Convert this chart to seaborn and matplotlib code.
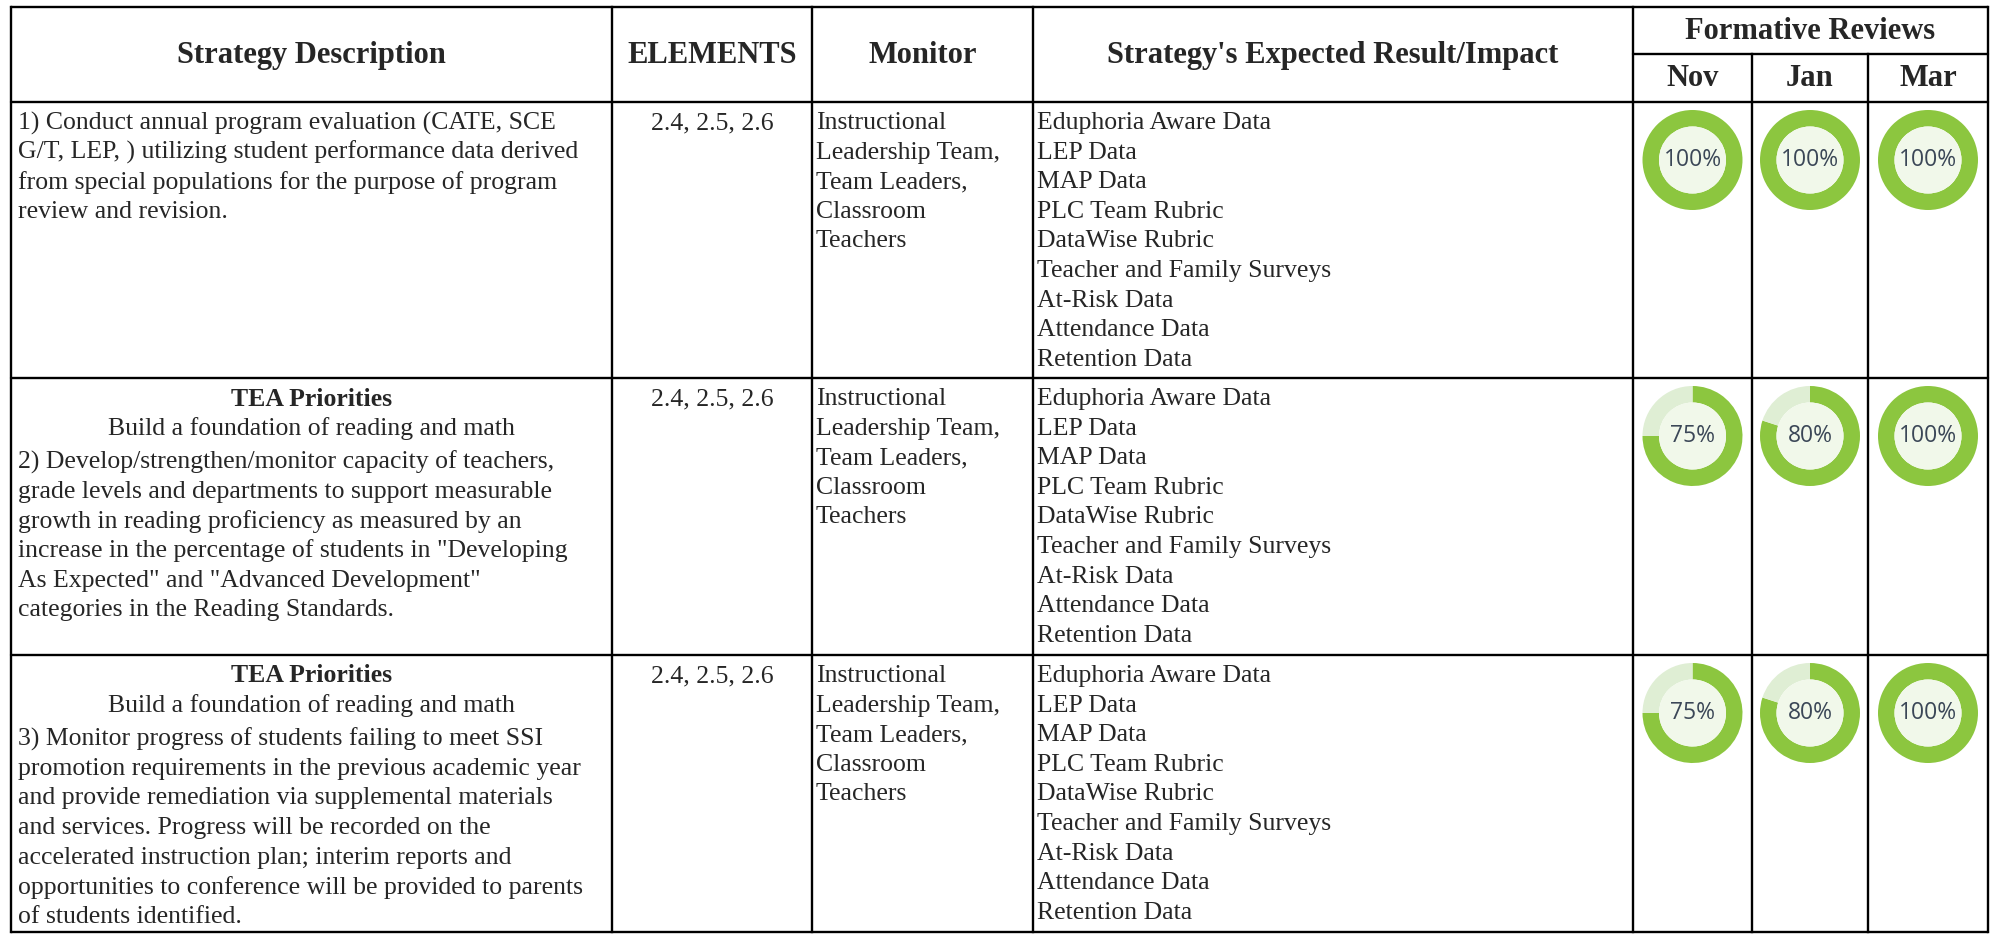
import matplotlib
matplotlib.use("Agg")
import matplotlib.pyplot as plt
from matplotlib.patches import Circle
import seaborn as sns

# ---------------- data ----------------
headers = ["Strategy Description", "ELEMENTS", "Monitor", "Strategy's Expected Result/Impact"]
review_group = "Formative Reviews"
months = ["Nov", "Jan", "Mar"]

strategy_titles = [None, "TEA Priorities", "TEA Priorities"]
strategy_subtitles = [None, "Build a foundation of reading and math", "Build a foundation of reading and math"]
strategy_text = [
    ["1) Conduct annual program evaluation (CATE, SCE",
     "G/T, LEP, ) utilizing student performance data derived",
     "from special populations for the purpose of program",
     "review and revision."],
    ["2) Develop/strengthen/monitor capacity of teachers,",
     "grade levels and departments to support measurable",
     "growth in reading proficiency as measured by an",
     "increase in the percentage of students in \"Developing",
     "As Expected\" and \"Advanced Development\"",
     "categories in the Reading Standards."],
    ["3) Monitor progress of students failing to meet SSI",
     "promotion requirements in the previous academic year",
     "and provide remediation via supplemental materials",
     "and services. Progress will be recorded on the",
     "accelerated instruction plan; interim reports and",
     "opportunities to conference will be provided to parents",
     "of students identified."],
]
elements = ["2.4, 2.5, 2.6", "2.4, 2.5, 2.6", "2.4, 2.5, 2.6"]
monitor = ["Instructional", "Leadership Team,", "Team Leaders,", "Classroom", "Teachers"]
results = ["Eduphoria Aware Data", "LEP Data", "MAP Data", "PLC Team Rubric",
           "DataWise Rubric", "Teacher and Family Surveys", "At-Risk Data",
           "Attendance Data", "Retention Data"]
reviews = [[100, 100, 100], [75, 80, 100], [75, 80, 100]]

# ---------------- style / layout ----------------
sns.set_theme(style="white")
plt.rcParams["font.family"] = ["Liberation Serif", "DejaVu Serif"]

W, H = 1995, 934
col_x = [11, 612, 812, 1033, 1633, 1752, 1868, 1988]
top_y, sub_y, head_y = 7, 54, 102
row_y = [102, 378, 655, 932]
LINE = 29.6
BODY = 18.5
HEAD = 22
GREEN = "#8CC63F"
LIGHT = "#DFEED4"
INNER = "#F1F8EA"
PCT_COLOR = "#3B4757"
DONUT_D = 100

fig = plt.figure(figsize=(W / 100, H / 100), dpi=100)
ax = fig.add_axes([0, 0, 1, 1])
ax.set_xlim(0, W)
ax.set_ylim(H, 0)
ax.axis("off")

lw = 1.7
for x in col_x:
    y0 = top_y if x not in (col_x[5], col_x[6]) else sub_y
    ax.plot([x, x], [y0, row_y[-1]], color="black", lw=lw, solid_capstyle="projecting")
ax.plot([col_x[0], col_x[-1]], [top_y, top_y], color="black", lw=lw)
ax.plot([col_x[4], col_x[-1]], [sub_y, sub_y], color="black", lw=lw)
for y in row_y:
    ax.plot([col_x[0], col_x[-1]], [y, y], color="black", lw=lw)

for i, h in enumerate(headers):
    ax.text((col_x[i] + col_x[i + 1]) / 2, (top_y + head_y) / 2 + 1, h, ha="center", va="center",
            fontsize=HEAD, fontweight="bold")
ax.text((col_x[4] + col_x[7]) / 2, (top_y + sub_y) / 2 + 1, review_group, ha="center", va="center",
        fontsize=HEAD, fontweight="bold")
for j, m in enumerate(months):
    ax.text((col_x[4 + j] + col_x[5 + j]) / 2, (sub_y + head_y) / 2 + 1, m, ha="center", va="center",
            fontsize=HEAD, fontweight="bold")

for r in range(3):
    y0 = row_y[r] + 21
    yy = y0
    cx0 = (col_x[0] + col_x[1]) / 2
    if strategy_titles[r]:
        ax.text(cx0, yy, strategy_titles[r], ha="center", va="center", fontsize=BODY, fontweight="bold")
        yy += LINE
        ax.text(cx0, yy, strategy_subtitles[r], ha="center", va="center", fontsize=BODY)
        yy += LINE + 4
    for line in strategy_text[r]:
        ax.text(col_x[0] + 7, yy, line, ha="left", va="center", fontsize=BODY)
        yy += LINE
    ax.text((col_x[1] + col_x[2]) / 2, y0, elements[r], ha="center", va="center", fontsize=BODY)
    for k, line in enumerate(monitor):
        ax.text(col_x[2] + 4, y0 + k * LINE, line, ha="left", va="center", fontsize=BODY)
    for k, line in enumerate(results):
        ax.text(col_x[3] + 4, y0 + k * LINE, line, ha="left", va="center", fontsize=BODY)

    cy = row_y[r] + 58
    for j, v in enumerate(reviews[r]):
        cx = (col_x[4 + j] + col_x[5 + j]) / 2
        R = DONUT_D / 2
        dax = fig.add_axes([(cx - R) / W, 1 - (cy + R) / H, 2 * R / W, 2 * R / H])
        dax.pie([v, 100 - v], colors=[GREEN, LIGHT], startangle=90, counterclock=False,
                radius=1, wedgeprops=dict(width=0.33, linewidth=0))
        dax.add_patch(Circle((0, 0), 0.67, facecolor=INNER, edgecolor="none"))
        dax.text(0, 0, f"{v}%", ha="center", va="center", fontsize=16.5,
                 family=["Open Sans", "DejaVu Sans"], color=PCT_COLOR)
        dax.set_xlim(-1, 1)
        dax.set_ylim(-1, 1)
        dax.set_aspect("equal")
        dax.axis("off")

fig.savefig("out.png", dpi=100, facecolor="white")
